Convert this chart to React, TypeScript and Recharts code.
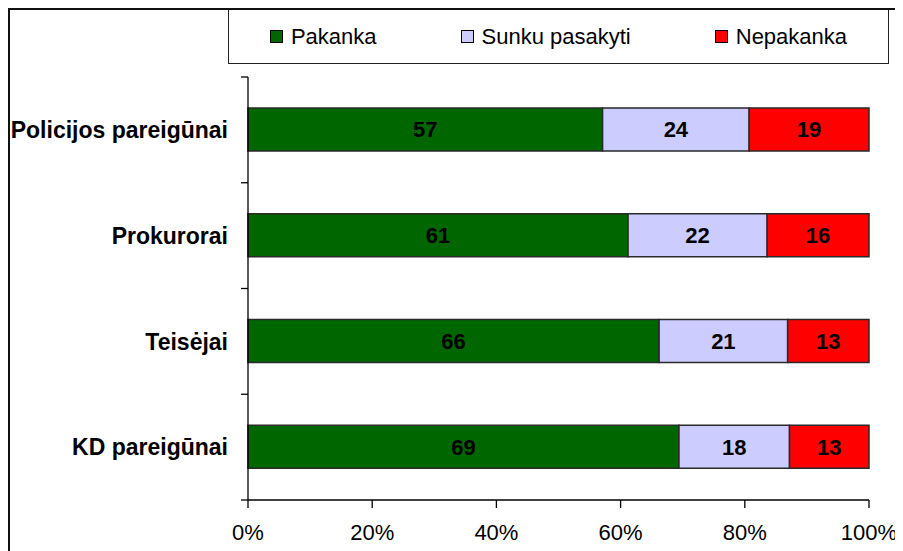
import React from 'react';
import { BarChart, Bar, XAxis, YAxis, Legend, LabelList } from 'recharts';

const categories = ['Policijos pareigūnai', 'Prokurorai', 'Teisėjai', 'KD pareigūnai'];
const pakanka = [57.1, 61.2, 66.2, 69.4];
const sunkuPasakyti = [23.6, 22.4, 20.7, 17.8];
const nepakanka = [19.3, 16.4, 13.1, 12.8];
const xTicks = [0, 0.2, 0.4, 0.6, 0.8, 1];

const seriesNames = ['Pakanka', 'Sunku pasakyti', 'Nepakanka'];
const seriesColors = ['#006600', '#CCCCFF', '#FF0000'];

const data = categories.map((name, i) => ({
  name,
  pakanka: pakanka[i],
  sunku: sunkuPasakyti[i],
  nepakanka: nepakanka[i],
}));

const FONT = '"Liberation Sans", Arial, sans-serif';
const W = 893;
const H = 541;
const MARGIN = { top: 67, right: 34, bottom: 0, left: 0 };
const Y_W = 238;
const X_H = 51;
const PLOT_H = H - MARGIN.top - MARGIN.bottom - X_H;
const LABEL_GAP = 20;
const TICK_LEN = 7;

const YTick = (props: any) => {
  const { x, y, payload, index } = props;
  const axisX = x + LABEL_GAP;
  const half = (payload && payload.offset) || PLOT_H / categories.length / 2;
  const isLast = index === categories.length - 1;
  return (
    <g>
      <line x1={axisX - TICK_LEN} x2={axisX} y1={y - half} y2={y - half} stroke="#000" strokeWidth={1.3} />
      {isLast && (
        <line x1={axisX - TICK_LEN} x2={axisX} y1={y + half} y2={y + half} stroke="#000" strokeWidth={1.3} />
      )}
      <text
        x={x}
        y={y}
        dy="0.36em"
        textAnchor="end"
        fill="#000"
        fontSize={23}
        fontWeight="bold"
        fontFamily={FONT}
      >
        {payload.value}
      </text>
    </g>
  );
};

const renderLegend = (props: any) => {
  const payload = [...(props.payload || [])].sort(
    (a: any, b: any) => seriesNames.indexOf(a.value) - seriesNames.indexOf(b.value)
  );
  return (
    <div
      style={{
        boxSizing: 'border-box',
        width: 661,
        height: 55,
        border: '1.5px solid #222',
        background: '#fff',
        display: 'flex',
        justifyContent: 'center',
        alignItems: 'center',
        gap: 84,
        fontFamily: FONT,
        fontSize: 22,
        color: '#000',
      }}
    >
      {payload.map((e: any) => (
        <span key={e.value} style={{ display: 'flex', alignItems: 'center' }}>
          <span
            style={{
              boxSizing: 'border-box',
              width: 13,
              height: 13,
              background: e.color,
              border: '1px solid #000',
              marginRight: 8,
            }}
          />
          <span>{e.value}</span>
        </span>
      ))}
    </div>
  );
};

const fmtLabel = (v: any) => Math.round(Number(v));

export default function App() {
  return (
    <div
      style={{
        boxSizing: 'border-box',
        width: 895,
        height: 543,
        borderTop: '2px solid #111',
        borderLeft: '2px solid #111',
        background: '#fff',
        overflow: 'hidden',
      }}
    >
      <BarChart
        width={W}
        height={H}
        data={data}
        layout="vertical"
        stackOffset="expand"
        margin={MARGIN}
        style={{ fontFamily: FONT }}
      >
        <Legend
          layout="vertical"
          align="center"
          verticalAlign="middle"
          content={renderLegend}
          wrapperStyle={{ top: -1, left: 218, width: 661, height: 55 }}
        />
        <XAxis
          type="number"
          domain={[0, 1]}
          ticks={xTicks}
          height={X_H}
          tickFormatter={(v: number) => `${Math.round(v * 100)}%`}
          tick={{ fill: '#000', fontSize: 22, fontFamily: FONT }}
          tickSize={8}
          tickMargin={16}
          axisLine={{ stroke: '#000', strokeWidth: 1.3 }}
          tickLine={{ stroke: '#000', strokeWidth: 1.3 }}
        />
        <YAxis
          type="category"
          dataKey="name"
          width={Y_W}
          tick={<YTick />}
          tickLine={false}
          tickSize={0}
          tickMargin={LABEL_GAP}
          axisLine={{ stroke: '#000', strokeWidth: 1.3 }}
        />
        <Bar dataKey="pakanka" name={seriesNames[0]} stackId="a" fill={seriesColors[0]} stroke="#2a2a2a" strokeWidth={1.5} barSize={43} isAnimationActive={false}>
          <LabelList dataKey="pakanka" position="center" formatter={fmtLabel} fill="#000" fontSize={22} fontWeight="bold" fontFamily={FONT} />
        </Bar>
        <Bar dataKey="sunku" name={seriesNames[1]} stackId="a" fill={seriesColors[1]} stroke="#2a2a2a" strokeWidth={1.5} barSize={43} isAnimationActive={false}>
          <LabelList dataKey="sunku" position="center" formatter={fmtLabel} fill="#000" fontSize={22} fontWeight="bold" fontFamily={FONT} />
        </Bar>
        <Bar dataKey="nepakanka" name={seriesNames[2]} stackId="a" fill={seriesColors[2]} stroke="#2a2a2a" strokeWidth={1.5} barSize={43} isAnimationActive={false}>
          <LabelList dataKey="nepakanka" position="center" formatter={fmtLabel} fill="#000" fontSize={22} fontWeight="bold" fontFamily={FONT} />
        </Bar>
      </BarChart>
    </div>
  );
}
